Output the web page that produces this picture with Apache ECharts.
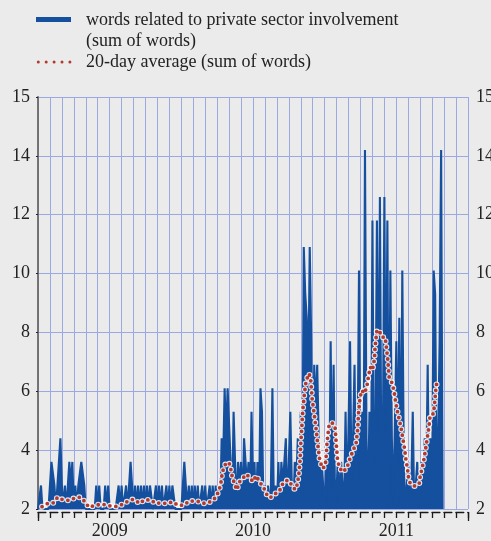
<!DOCTYPE html>
<html><head><meta charset="utf-8">
<script src="https://cdn.jsdelivr.net/npm/echarts@6/dist/echarts.min.js"></script>
<style>html,body{margin:0;padding:0;background:#ebebeb;}#c{width:491px;height:541px;}</style>
</head><body><div id="c"></div>
<script>
// ---- data ----
const years = ['2009', '2010', '2011'];
const seriesNames = ['words related to private sector involvement', '(sum of words)', '20-day average (sum of words)'];
const sampleStepMonths = 0.125; // time between samples of the daily word count (months since Jan 2009)
const words2009 = [2,2,2.8,2,2,2,2,2,2.8,3.6,3.6,2.8,2,2.8,2.8,4.4,2.8,2,2.8,2,2,3.6,2.8,3.6,2,2.8,2,2.8,2.8,3.6,3.6,2.8,2,2,2,2,2,2,2,2.8,2,2.8,2,2,2,2.8,2,2.8,2,2,2,2,2,2,2.8,2,2.8,2,2,2.8,2,2.8,3.6,2.8,2,2.8,2,2.8,2,2.8,2,2.8,2,2.8,2,2.8,2.8,2,2,2.8,2,2.8,2,2.8,2,2,2.8,2,2.8,2,2.8,2.8,2,2,2,2];
const words2010 = [2,2,3.6,2.8,2,2.8,2,2.8,2,2.8,2,2.8,2,2,2.8,2,2.8,2,2,2.8,2,2.8,2,2.8,2,2.8,2,4.4,3.6,6.1,4.4,6.1,6.1,3.6,2,5.3,3.6,2,3.6,2.8,3.6,2,4.4,3.6,2.8,3.6,2,5.3,2.8,3.6,2,3.6,2,6.1,5.3,2,2.8,2,2.8,2,2.8,6.1,2,2.8,2,3.6,2,3.6,2.8,3.6,4.4,2,3.6,5.3,2.8,2,3.6,2.8,4.4,3.6,5.3,2,10.9,9.3,8.5,6.1,10.9,7.7,2,6.9,5.3,6.9,4.4,2,3.6,2.8];
const words2011 = [2,3.6,4.4,2,7.7,2.8,6.9,2,2,3.6,2,3.6,2.8,2,5.3,2,2,7.7,2.8,4.4,6.9,2,3.6,10.1,2.8,5.3,2,14.2,4.4,2,5.3,2,11.8,2.8,4.4,11.8,3.6,12.6,2.8,4.4,12.6,3.6,11.8,2,10.1,4.4,2,2,7.7,3.6,8.5,2,10.1,3.6,2,2,3.6,2,2.8,5.3,2,2.8,3.6,2,2.8,3.6,2,4.4,2.8,6.9,2,4.4,2.8,10.1,9.3,2.8,4.4,7.7,14.2,2];
const avgMonth = [0.34,0.81,1.28,1.65,2.01,2.37,2.62,3.18,3.54,3.96,4.25,4.77,5.34,5.84,6.45,7.01,7.51,7.98,8.54,8.88,9.46,9.80,10.30,10.78,11.28,11.75,12.23,12.67,13.09,13.51,13.93,14.46,14.82,15.13,15.30,15.39,15.52,15.75,16.00,16.16,16.25,16.44,16.64,16.92,17.19,17.42,17.61,18.00,18.26,18.59,18.93,19.10,19.43,19.85,20.21,20.41,20.69,20.96,21.25,21.52,21.72,21.83,21.94,22.00,22.09,22.17,22.28,22.45,22.70,22.84,22.95,23.12,23.28,23.43,23.59,23.81,24.04,24.12,24.20,24.37,24.60,24.87,24.96,25.07,25.21,25.49,25.85,26.07,26.36,26.63,26.77,26.83,26.97,27.11,27.33,27.53,27.66,27.81,28.00,28.17,28.22,28.37,28.56,28.79,29.06,29.15,29.29,29.40,29.67,29.82,29.92,30.04,30.18,30.32,30.46,30.54,30.65,30.74,30.82,30.93,31.01,31.16,31.30,31.49,31.72,31.91,31.99,32.14,32.27,32.39,32.50,32.60,32.69,32.77,32.83,32.97,33.11,33.19,33.25,33.31,33.39];
const avgValue = [2.08,2.19,2.21,2.40,2.33,2.30,2.29,2.39,2.40,2.24,2.06,2.12,2.17,2.12,2.08,2.15,2.26,2.33,2.19,2.31,2.31,2.20,2.20,2.19,2.24,2.12,2.14,2.27,2.27,2.25,2.19,2.25,2.37,2.60,2.85,3.12,3.37,3.57,3.57,3.32,3.12,2.87,2.65,2.96,3.06,3.18,3.12,2.93,3.13,2.90,2.70,2.52,2.38,2.52,2.60,2.81,2.95,2.98,2.81,2.66,2.85,3.15,3.66,4.23,4.79,5.36,5.83,6.37,6.60,6.35,5.75,5.24,4.73,4.17,3.66,3.38,3.45,3.77,4.28,4.85,4.94,4.80,4.28,3.72,3.43,3.26,3.38,3.66,3.97,4.23,4.73,5.24,5.80,6.03,5.93,6.15,6.48,6.82,6.72,7.10,7.50,8.07,8.07,7.84,7.84,7.56,7.05,6.48,6.26,5.97,5.69,5.41,5.15,4.90,4.62,4.40,4.17,3.89,3.63,3.38,3.10,2.87,2.85,2.78,2.80,2.85,3.10,3.36,3.60,3.89,4.17,4.45,4.68,4.93,5.19,5.24,5.24,5.53,5.80,6.07,6.30];

// ---- build ----
const wordsAll = words2009.concat(words2010, words2011);
const wordsData = wordsAll.map((v, i) => [i * sampleStepMonths, v]);
const avgData = avgMonth.map((m, i) => [m, avgValue[i]]);

const FONT = '"Liberation Serif", "Times New Roman", serif';
const FS = 18;
const BLUE = '#15509f';
const RED = '#b5382c';
const GRID = '#9aa9e3';
const TXT = '#222';

const chart = echarts.init(document.getElementById('c'), null, {renderer: 'canvas'});
const yFmt = v => (v === 16 ? '15' : String(v));
const option = {
  backgroundColor: '#ebebeb',
  animation: false,
  grid: {left: 38, right: 23, top: 97, bottom: 32, outerBoundsMode: 'none', containLabel: false},
  xAxis: [
    {type: 'value', min: 0, max: 36, interval: 1,
     axisLine: {show: false}, axisTick: {show: false}, axisLabel: {show: false},
     splitLine: {show: true, lineStyle: {color: GRID, width: 1}}},
    {type: 'value', min: 0, max: 36, interval: 1, position: 'bottom', offset: 3,
     axisLine: {show: true, lineStyle: {color: '#1a1a1a', width: 1.3, type: [7.9, 4.04]}},
     axisTick: {show: true, length: 6, lineStyle: {color: '#1a1a1a', width: 1.3}},
     axisLabel: {show: false}, splitLine: {show: false}},
    {type: 'value', min: 0, max: 36, interval: 12, position: 'bottom', offset: 3,
     axisLine: {show: false},
     axisTick: {show: true, length: 9, lineStyle: {color: '#1a1a1a', width: 1.3}},
     axisLabel: {show: false}, splitLine: {show: false}},
    {type: 'value', min: 0, max: 36, interval: 6, position: 'bottom', offset: 0,
     axisLine: {show: false}, axisTick: {show: false}, splitLine: {show: false},
     axisLabel: {margin: 13, fontFamily: FONT, fontSize: FS, color: TXT,
       formatter: v => (v % 12 === 6 ? years[(v - 6) / 12] : '')}}
  ],
  yAxis: [
    {type: 'value', min: 2, max: 16, interval: 2, position: 'left',
     axisLine: {show: true, lineStyle: {color: '#222', width: 1.5}},
     axisTick: {show: true, length: 2, lineStyle: {color: '#222'}},
     axisLabel: {margin: 8, fontFamily: FONT, fontSize: FS, color: TXT, formatter: yFmt},
     splitLine: {show: true, lineStyle: {color: GRID, width: 1}}},
    {type: 'value', min: 2, max: 16, interval: 2, position: 'right',
     axisLine: {show: true, lineStyle: {color: '#808080', width: 1.5}},
     axisTick: {show: false},
     axisLabel: {margin: 8, fontFamily: FONT, fontSize: FS, color: TXT, formatter: yFmt},
     splitLine: {show: false}}
  ],
  series: [
    {name: seriesNames[0], type: 'line', data: wordsData, showSymbol: false, silent: true,
     lineStyle: {color: BLUE, width: 2.1, join: 'bevel'},
     areaStyle: {color: BLUE, opacity: 1, origin: 'start'}, z: 2},
    {name: 'halo', type: 'line', data: avgData, showSymbol: false, silent: true,
     lineStyle: {color: 'rgba(255,255,255,0.85)', width: 6, type: [0, 6], cap: 'round'}, z: 3},
    {name: seriesNames[2], type: 'line', data: avgData, showSymbol: false, silent: true,
     lineStyle: {color: RED, width: 3.8, type: [0, 6], cap: 'round'}, z: 4}
  ],
  graphic: [
    {type: 'line', shape: {x1: 36, y1: 19.5, x2: 71, y2: 19.5}, style: {stroke: BLUE, lineWidth: 5}},
    {type: 'text', x: 86, y: 20, style: {text: seriesNames[0], font: FS + 'px ' + FONT, fill: TXT, verticalAlign: 'middle'}},
    {type: 'text', x: 86, y: 41, style: {text: seriesNames[1], font: FS + 'px ' + FONT, fill: TXT, verticalAlign: 'middle'}},
    {type: 'line', shape: {x1: 38.3, y1: 62, x2: 70, y2: 62}, style: {stroke: RED, lineWidth: 3, lineDash: [0, 7.9], lineCap: 'round'}},
    {type: 'text', x: 86, y: 62, style: {text: seriesNames[2], font: FS + 'px ' + FONT, fill: TXT, verticalAlign: 'middle'}}
  ]
};
chart.setOption(option);
</script>
</body></html>
